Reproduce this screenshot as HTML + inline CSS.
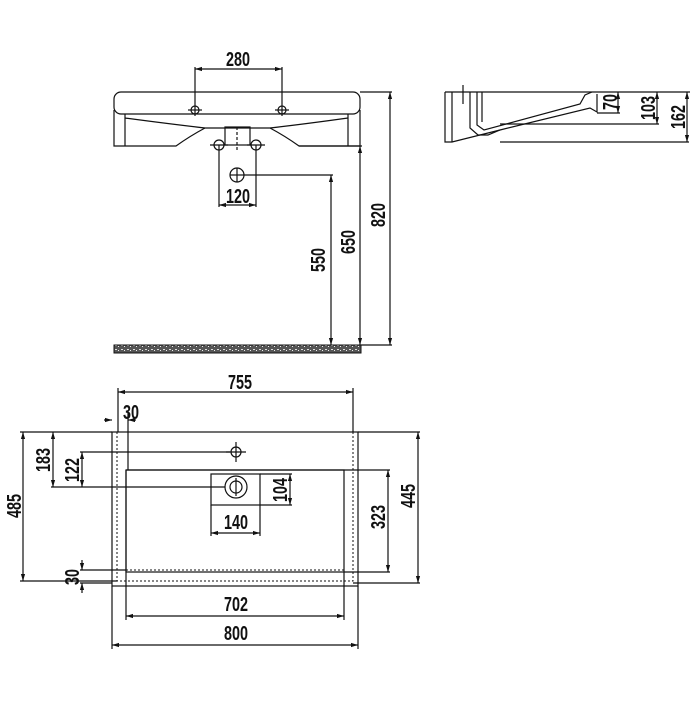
<!DOCTYPE html>
<html><head><meta charset="utf-8"><style>
html,body{margin:0;padding:0;background:#fff;}
svg text{font-family:"Liberation Sans",sans-serif;font-weight:bold;font-size:20px;fill:#111;text-anchor:middle;}
</style></head><body>
<svg width="700" height="700" viewBox="0 0 700 700" xmlns="http://www.w3.org/2000/svg">
<defs>
<marker id="a" viewBox="0 0 10 10" refX="10" refY="5" markerWidth="6" markerHeight="6" orient="auto-start-reverse"><path d="M0,2 L10,5 L0,8 z" fill="#111"/></marker>
<pattern id="h" width="6" height="4" patternUnits="userSpaceOnUse"><rect width="6" height="4" fill="#555"/><rect x="1" y="1" width="2" height="1" fill="#ddd"/><rect x="4" y="2" width="1" height="1" fill="#eee"/></pattern>
</defs>
<g stroke="#111" stroke-width="1.2" fill="none">
<rect x="114" y="92" width="246" height="22" rx="7"/>
<path d="M114,110 V146 H176 Q190,136 205,128 H270 Q285,136 299,146 H360 V110"/>
<line x1="125" y1="114" x2="125" y2="146"/><line x1="348" y1="114" x2="348" y2="146"/>
<path d="M125,118 Q170,124 205,128 M348,118 Q305,124 270,128"/>
<rect x="225" y="127" width="25" height="18"/>
<line x1="237" y1="127" x2="237" y2="152" stroke-dasharray="3,2"/>
<circle cx="195" cy="110" r="4"/><circle cx="282" cy="110" r="4"/>
<line x1="188" y1="110" x2="202" y2="110"/><line x1="275" y1="110" x2="289" y2="110"/>
<circle cx="219" cy="145" r="5"/><circle cx="256" cy="145" r="5"/>
<line x1="210" y1="145" x2="228" y2="145"/><line x1="247" y1="145" x2="265" y2="145"/>
<circle cx="237" cy="175" r="7"/><line x1="230" y1="175" x2="244" y2="175"/><line x1="237" y1="168" x2="237" y2="182"/>
<line x1="195" y1="67" x2="195" y2="116"/><line x1="282" y1="67" x2="282" y2="116"/>
<line x1="195" y1="69" x2="282" y2="69" marker-start="url(#a)" marker-end="url(#a)"/>
<line x1="219" y1="145" x2="219" y2="207"/><line x1="256" y1="145" x2="256" y2="207"/>
<line x1="219" y1="205" x2="256" y2="205" marker-start="url(#a)" marker-end="url(#a)"/>
<line x1="244" y1="175" x2="333" y2="175"/>
<line x1="331" y1="175" x2="331" y2="345" marker-start="url(#a)" marker-end="url(#a)"/>
<line x1="299" y1="146" x2="362" y2="146"/>
<line x1="360" y1="146" x2="360" y2="345" marker-start="url(#a)" marker-end="url(#a)"/>
<line x1="360" y1="92" x2="392" y2="92"/>
<line x1="390" y1="92" x2="390" y2="345" marker-start="url(#a)" marker-end="url(#a)"/>
<line x1="361" y1="345" x2="392" y2="345"/>
</g>
<rect x="114" y="345" width="247" height="8" fill="url(#h)" stroke="#111" stroke-width="1"/>
<text transform="translate(238,66) scale(0.72,1)">280</text>
<text transform="translate(238,203) scale(0.72,1)">120</text>
<text transform="translate(325,260) rotate(-90) scale(0.72,1)">550</text>
<text transform="translate(355,242) rotate(-90) scale(0.72,1)">650</text>
<text transform="translate(385,215) rotate(-90) scale(0.72,1)">820</text>

<g stroke="#111" stroke-width="1.2" fill="none">
<line x1="445" y1="92" x2="690" y2="92"/>
<path d="M445,92 V142 H452 L500,130"/>
<line x1="452" y1="92" x2="452" y2="142"/>
<path d="M470,92 V128 L478,135 H488 L500,130 L590,108 L597,112 V94"/>
<path d="M477,92 V125 L484,130 L580,104 L585,95 L592,92"/>
<path d="M482,92 V122"/>
<line x1="463" y1="85" x2="463" y2="104"/>
<line x1="597" y1="113" x2="620" y2="113"/>
<line x1="618" y1="92" x2="618" y2="113" marker-start="url(#a)" marker-end="url(#a)"/>
<line x1="500" y1="124" x2="659" y2="124"/>
<line x1="657" y1="92" x2="657" y2="124" marker-start="url(#a)" marker-end="url(#a)"/>
<line x1="500" y1="142" x2="689" y2="142"/>
<line x1="687" y1="92" x2="687" y2="142" marker-start="url(#a)" marker-end="url(#a)"/>
</g>
<text transform="translate(617,102) rotate(-90) scale(0.72,1)">70</text>
<text transform="translate(655,108) rotate(-90) scale(0.72,1)">103</text>
<text transform="translate(685,117) rotate(-90) scale(0.72,1)">162</text>

<g stroke="#111" stroke-width="1.2" fill="none">
<rect x="112" y="432" width="246" height="154"/>
<rect x="126" y="470" width="218" height="102"/>
<path d="M117,432 V581 H353 V432" stroke-dasharray="2,2" stroke-width="1"/>
<line x1="126" y1="570" x2="344" y2="570" stroke-dasharray="2,2" stroke-width="1"/>
<circle cx="236" cy="452" r="5"/><line x1="226" y1="452" x2="246" y2="452"/><line x1="236" y1="442" x2="236" y2="462"/>
<circle cx="236" cy="487" r="11"/><circle cx="236" cy="487" r="6"/>
<line x1="236" y1="478" x2="236" y2="496"/>
<rect x="211" y="474" width="49" height="31"/>
<line x1="118" y1="392" x2="353" y2="392" marker-start="url(#a)" marker-end="url(#a)"/>
<line x1="118" y1="388" x2="118" y2="432"/><line x1="353" y1="388" x2="353" y2="432"/>
<line x1="104" y1="420" x2="112" y2="420" marker-end="url(#a)"/>
<line x1="136" y1="420" x2="128" y2="420" marker-end="url(#a)"/>
<line x1="128" y1="410" x2="128" y2="470"/>
<line x1="126" y1="470" x2="126" y2="620"/><line x1="344" y1="572" x2="344" y2="620"/>
<line x1="126" y1="616" x2="344" y2="616" marker-start="url(#a)" marker-end="url(#a)"/>
<line x1="112" y1="586" x2="112" y2="649"/><line x1="358" y1="586" x2="358" y2="649"/>
<line x1="112" y1="645" x2="358" y2="645" marker-start="url(#a)" marker-end="url(#a)"/>
<line x1="20" y1="432" x2="112" y2="432"/><line x1="20" y1="581" x2="117" y2="581"/>
<line x1="23" y1="432" x2="23" y2="581" marker-start="url(#a)" marker-end="url(#a)"/>
<line x1="53" y1="432" x2="53" y2="487" marker-start="url(#a)" marker-end="url(#a)"/>
<line x1="51" y1="487" x2="225" y2="487"/>
<line x1="80" y1="452" x2="230" y2="452"/>
<line x1="82" y1="452" x2="82" y2="487" marker-start="url(#a)" marker-end="url(#a)"/>
<line x1="211" y1="505" x2="211" y2="536"/><line x1="260" y1="505" x2="260" y2="536"/>
<line x1="211" y1="533" x2="260" y2="533" marker-start="url(#a)" marker-end="url(#a)"/>
<line x1="260" y1="474" x2="292" y2="474"/><line x1="260" y1="505" x2="292" y2="505"/>
<line x1="290" y1="474" x2="290" y2="505" marker-start="url(#a)" marker-end="url(#a)"/>
<line x1="126" y1="470" x2="390" y2="470"/><line x1="344" y1="572" x2="390" y2="572"/>
<line x1="388" y1="470" x2="388" y2="572" marker-start="url(#a)" marker-end="url(#a)"/>
<line x1="358" y1="432" x2="420" y2="432"/><line x1="353" y1="583" x2="420" y2="583"/>
<line x1="418" y1="432" x2="418" y2="583" marker-start="url(#a)" marker-end="url(#a)"/>
<line x1="80" y1="570" x2="126" y2="570"/><line x1="80" y1="583" x2="112" y2="583"/>
<line x1="82" y1="560" x2="82" y2="570" marker-end="url(#a)"/>
<line x1="82" y1="593" x2="82" y2="583" marker-end="url(#a)"/>
</g>
<text transform="translate(240,389) scale(0.72,1)">755</text>
<text transform="translate(131,419) scale(0.72,1)">30</text>
<text transform="translate(236,611) scale(0.72,1)">702</text>
<text transform="translate(236,640) scale(0.72,1)">800</text>
<text transform="translate(236,529) scale(0.72,1)">140</text>
<text transform="translate(21,506) rotate(-90) scale(0.72,1)">485</text>
<text transform="translate(50,460) rotate(-90) scale(0.72,1)">183</text>
<text transform="translate(79,470) rotate(-90) scale(0.72,1)">122</text>
<text transform="translate(287,490) rotate(-90) scale(0.72,1)">104</text>
<text transform="translate(385,517) rotate(-90) scale(0.72,1)">323</text>
<text transform="translate(415,496) rotate(-90) scale(0.72,1)">445</text>
<text transform="translate(79,577) rotate(-90) scale(0.72,1)">30</text>
</svg>
</body></html>
